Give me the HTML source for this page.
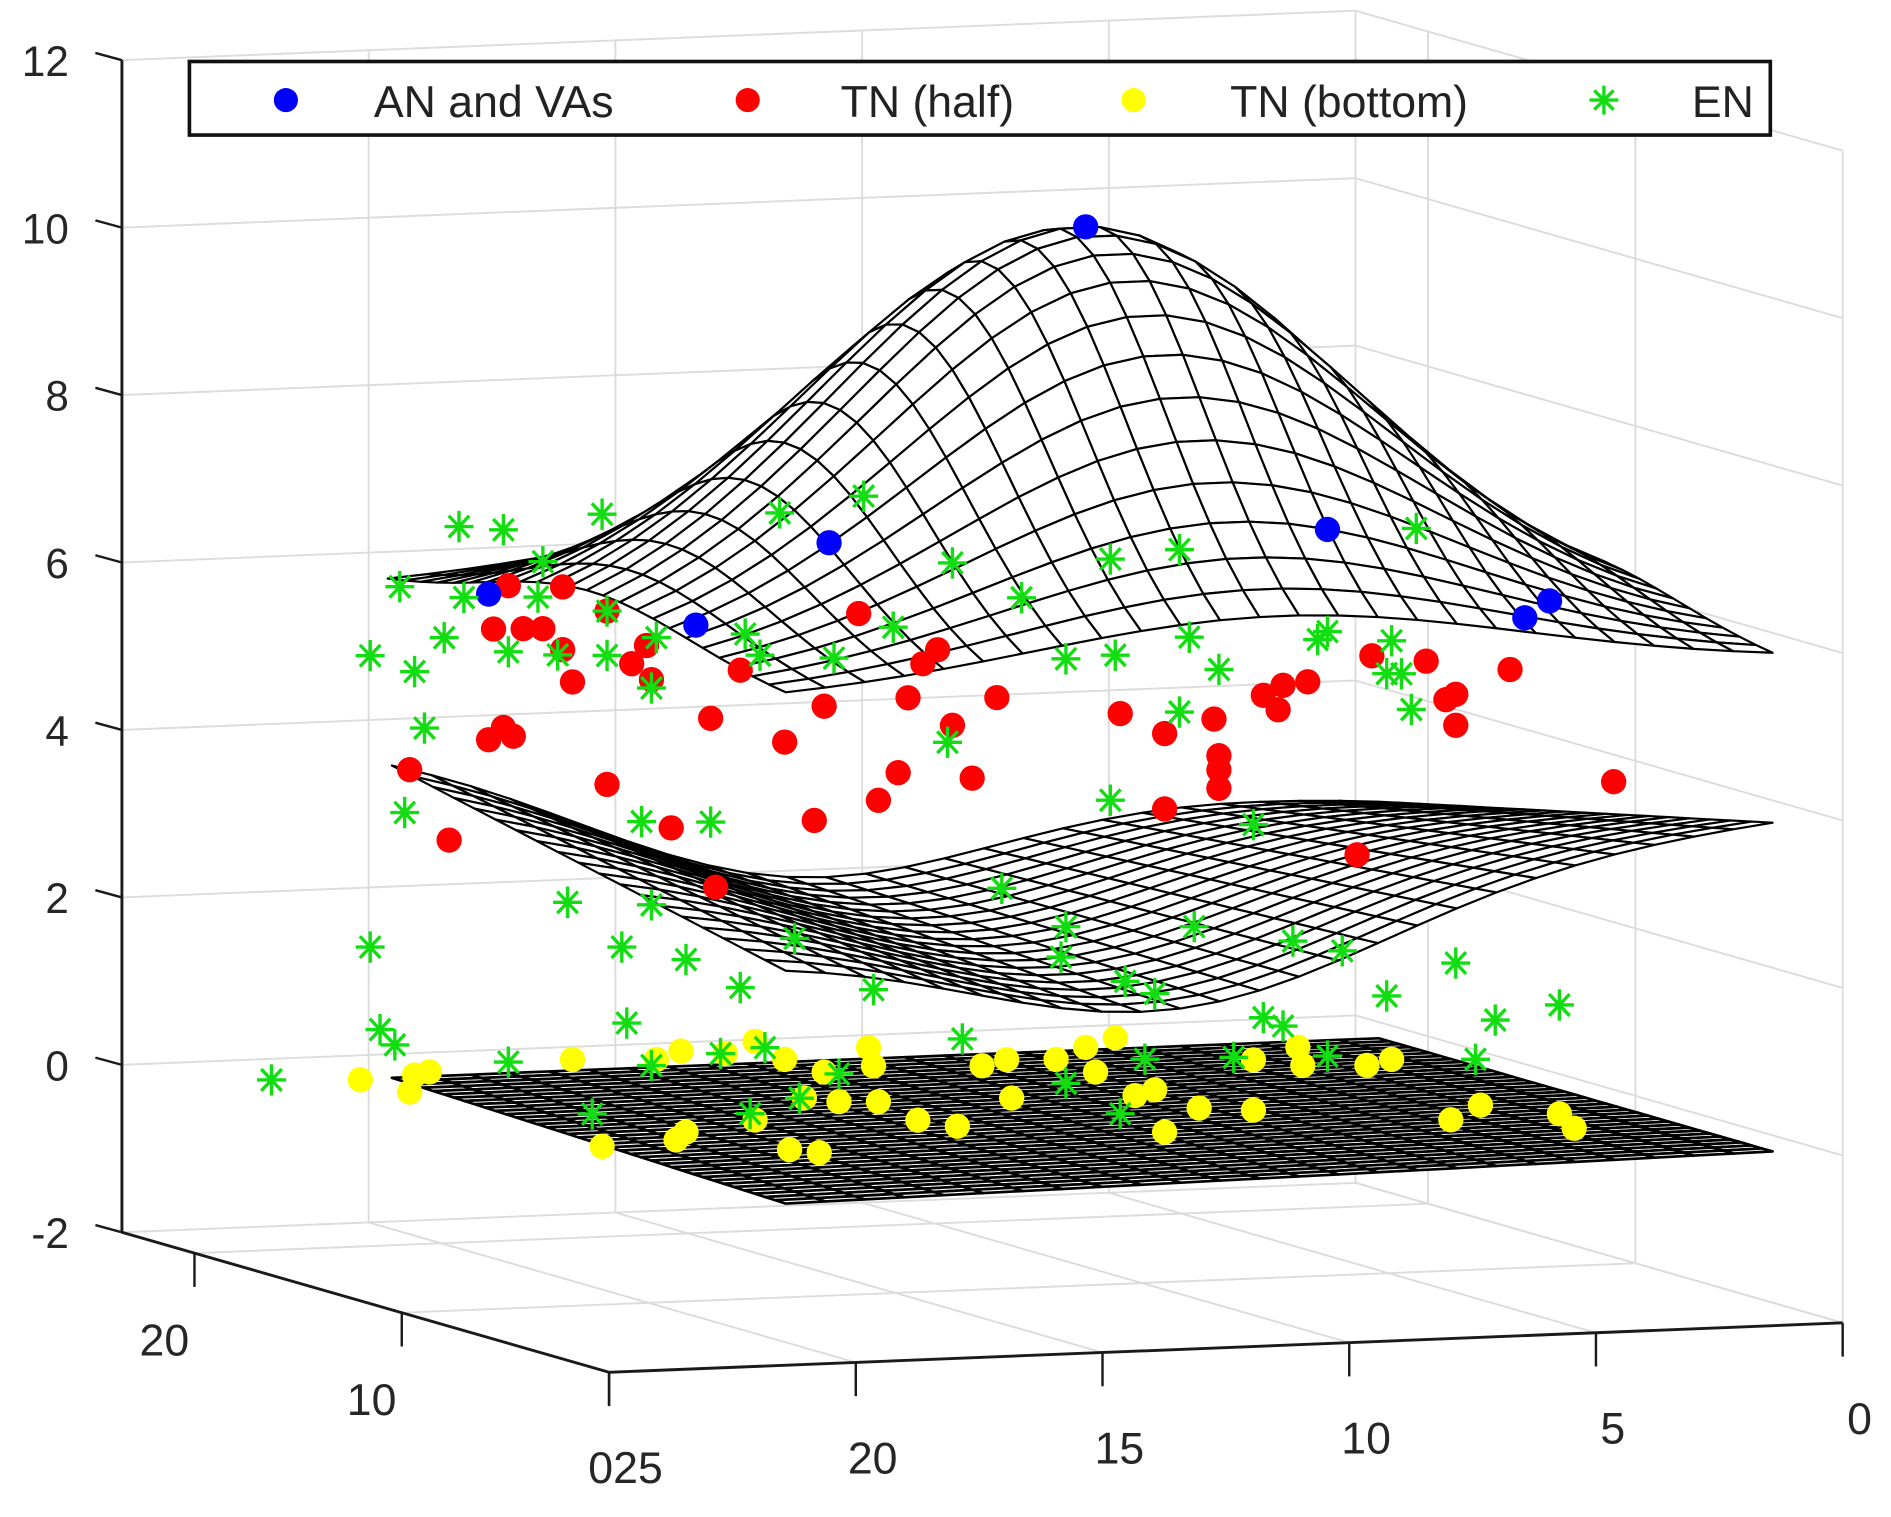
<!DOCTYPE html>
<html><head><meta charset="utf-8"><style>
html,body{margin:0;padding:0;background:#fff;}
svg{display:block;}
text{font-family:"Liberation Sans",Arial,sans-serif;}
</style></head><body>
<svg id="chart" width="1891" height="1517" viewBox="0 0 1568 1258" xmlns="http://www.w3.org/2000/svg">
<g id="walls"></g>
<g id="axes"></g>
<g id="meshes"></g>
<g id="markers"></g>
<g id="legend">
  <rect x="157" y="51" width="1311" height="61" fill="#fff" stroke="#111" stroke-width="3"/>
  <circle cx="237" cy="83" r="10" fill="#0000ff"/>
  <text x="310" y="97" font-size="37" fill="#222">AN and VAs</text>
  <circle cx="620" cy="83" r="10" fill="#ff0000"/>
  <text x="697" y="97" font-size="37" fill="#222">TN (half)</text>
  <circle cx="940" cy="83" r="10" fill="#ffff00"/>
  <text x="1020" y="97" font-size="37" fill="#222">TN (bottom)</text>
  <g stroke="#11dd11" stroke-width="2.8">
    <line x1="1318" y1="83" x2="1342" y2="83"/><line x1="1330" y1="71" x2="1330" y2="95"/>
    <line x1="1322" y1="75" x2="1338" y2="91"/><line x1="1338" y1="75" x2="1322" y2="91"/>
  </g>
  <text x="1403" y="97" font-size="37" fill="#222">EN</text>
</g>
</svg>
<script>
// ---- axis config ----
const xTicks=[0,5,10,15,20,25];
const yTicks=[0,10,20];
const zTicks=[-2,0,2,4,6,8,10,12];
const xMax=25, yMax=23.5, zMin=-2, zMax=12;
// ---- surface parameters ----
const topSurf=[5.85,4.75,11,10.5,5];
const midSurf=[3.4,0.55,1.3,13,6];
const botSurf=[0,-0.15];
const domX=[1,21], domY=[1,20];
// ---- scatter data (x, z; y fixed depth) ----
const ptY=12;
const blueX=[22.4,18.2,15.5,10.3,5.4,1.4,0.9];
const blueZ=[6.38,5.91,6.83,10.48,6.75,5.6,5.79];
const redX=[22.0,20.9,22.3,21.7,21.3,20.9,20.7,20.0,19.5,19.2,19.1,17.3,17.9,16.4,15.6,14.9,13.9,13.6,13.3,13.0,12.1,12.6,14.1,14.5,15.8,18.7,20.0,22.1,22.4,21.9,24.0,23.2,17.8,9.6,8.7,8.7,7.7,7.6,7.6,7.6,6.7,6.3,6.4,5.8,4.5,3.4,3.0,2.8,2.8,1.7,-0.4,4.8];
const redZ=[6.47,6.43,5.96,5.95,5.94,5.68,5.29,6.12,5.48,5.69,5.28,5.35,4.79,4.47,4.88,5.97,4.94,5.34,5.5,4.59,4.9,3.95,4.05,3.73,3.52,3.5,4.05,4.78,4.64,4.67,4.32,3.46,2.77,4.65,4.39,3.49,4.54,4.1,3.93,3.71,4.8,4.91,4.62,4.94,5.22,5.13,4.66,4.72,4.35,4.99,3.6,2.85];
const yelX=[25.0,24.0,23.9,23.6,20.7,20.1,18.6,18.4,18.5,17.6,17.0,16.4,15.6,14.7,14.6,14.5,13.7,16.3,15.7,17.0,12.4,11.9,11.8,10.9,10.3,9.7,10.1,9.3,8.9,8.7,8.0,6.9,6.9,6.0,5.9,4.6,4.1,2.9,2.3,0.7,0.4,15.3,16.0,12.9,19.0];
const yelZ=[0.64,0.47,0.67,0.7,0.78,-0.27,-0.23,-0.14,0.83,0.78,0.91,0.68,0.51,0.78,0.56,0.13,-0.11,-0.4,-0.45,-0.03,0.51,0.57,0.11,0.55,0.68,0.78,0.38,0.08,0.14,-0.37,-0.1,0.45,-0.15,0.58,0.36,0.33,0.39,-0.36,-0.2,-0.34,-0.52,0.15,0.21,-0.2,0.74];
const grnX=[23.0,22.1,20.1,21.3,24.2,22.9,21.4,20.0,23.3,24.8,23.9,22.0,21.0,20.0,19.0,19.1,23.7,16.5,14.8,13.0,11.6,14.2,15.4,16.9,17.2,10.7,9.8,9.7,8.2,8.4,7.6,5.6,5.4,4.1,3.9,3.6,3.7,13.1,8.4,9.8,6.9,24.1,19.3,17.9,12.0,20.8,19.1,24.8,19.7,18.4,17.3,16.2,14.6,10.7,10.8,8.1,6.1,5.1,2.8,4.2,2.0,0.7,9.5,8.9,24.6,24.3,19.6,12.8,6.7,6.3,26.8,22.0,19.1,17.7,16.8,15.3,16.1,17.1,20.3,10.7,9.1,9.6,7.3,5.4,2.4,4.2];
const grnZ=[7.2,7.14,7.28,6.74,6.51,6.35,6.32,6.12,5.88,5.7,5.49,5.68,5.62,5.59,5.78,5.18,4.81,7.21,7.37,6.53,6.08,5.79,5.45,5.52,5.78,5.33,6.5,5.35,5.53,6.58,5.13,5.44,5.53,5.39,4.99,6.72,4.56,4.39,4.64,3.62,3.26,3.81,3.59,3.55,2.62,2.66,2.59,2.22,2.1,1.92,1.56,2.12,1.47,2.13,1.77,2.07,1.85,1.71,1.51,1.15,0.81,0.96,1.45,1.29,1.23,1.04,1.19,0.84,0.95,0.84,0.68,0.78,0.67,0.78,0.83,0.48,0.21,0.05,0.12,0.26,0.51,-0.13,0.49,0.46,0.35,5.0];

const NS='http://www.w3.org/2000/svg';
function proj(x,y,z){
  const u=xMax-x;
  return [505+u*40.92-y*17.19, 1138-u*1.64-y*4.94-(z-zMin)*69.43];
}
function depth(x,y,z){return 10.9*(xMax-x)+34*y-10.4*(z-zMin);}
function mk(tag,attrs,parent){const e=document.createElementNS(NS,tag);for(const k in attrs)e.setAttribute(k,attrs[k]);parent.appendChild(e);return e;}
function line3(p,q,parent,stroke,w){const a=proj(...p),b=proj(...q);return mk('line',{x1:a[0],y1:a[1],x2:b[0],y2:b[1],stroke:stroke,'stroke-width':w},parent);}

// walls
const walls=document.getElementById('walls');
const gc='#dcdcdc';
zTicks.forEach(z=>{
  let l=line3([0,yMax,z],[xMax,yMax,z],walls,gc,1.6);
  
  
  l=line3([0,0,z],[0,yMax,z],walls,gc,1.6);
  
  
});
xTicks.forEach(x=>{
  let l=line3([x,yMax,zMin],[x,yMax,zMax],walls,gc,1.6);
  
  
  l=line3([x,0,zMin],[x,yMax,zMin],walls,gc,1.6);
  
  
});
yTicks.forEach(y=>{
  let l=line3([0,y,zMin],[0,y,zMax],walls,gc,1.6);
  
  
  l=line3([0,y,zMin],[xMax,y,zMin],walls,gc,1.6);
  
  
});

// axes
const axes=document.getElementById('axes');
let ax=line3([xMax,yMax,zMin],[xMax,yMax,zMax],axes,'#1a1a1a',2.4);


ax=line3([xMax,0,zMin],[xMax,yMax,zMin],axes,'#1a1a1a',2.4);


ax=line3([0,0,zMin],[xMax,0,zMin],axes,'#1a1a1a',2.4);


zTicks.forEach(z=>{
  const p=proj(xMax,yMax,z);
  const t=mk('line',{x1:p[0]-22,y1:p[1]-6,x2:p[0],y2:p[1],stroke:'#1a1a1a','stroke-width':2},axes);
  
  
  const tx=mk('text',{x:p[0]-44,y:p[1]+13,'font-size':35,fill:'#262626','text-anchor':'end'},axes);
  tx.textContent=String(z);
  
  
});
xTicks.forEach(x=>{
  const p=proj(x,0,zMin);
  const t=mk('line',{x1:p[0],y1:p[1],x2:p[0],y2:p[1]+28,stroke:'#1a1a1a','stroke-width':2},axes);
  
  
  const tx=mk('text',{x:p[0]+(x===xMax?24:14),y:p[1]+92,'font-size':37,fill:'#262626','text-anchor':'middle'},axes);
  tx.textContent=String(x);
  
  
});
yTicks.forEach(y=>{
  const p=proj(xMax,y,zMin);
  const t=mk('line',{x1:p[0],y1:p[1],x2:p[0],y2:p[1]+28,stroke:'#1a1a1a','stroke-width':2},axes);
  
  
  const tx=mk('text',{x:p[0]-(y===0?7:25),y:p[1]+(y===0?92:85),'font-size':37,fill:'#262626','text-anchor':'middle'},axes);
  tx.textContent=String(y);
  
  
});

// surfaces
function fTop(x,y){const[b,a,cx,cy,s]=topSurf;return b+a*Math.exp(-((x-cx)**2+(y-cy)**2)/(2*s*s));}
function fMid(x,y){const[b,sad,dip,cx,s]=midSurf;
  const sx=(x-(domX[0]+domX[1])/2)/((domX[1]-domX[0])/2), sy=(y-(domY[0]+domY[1])/2)/((domY[1]-domY[0])/2);
  return b+sad*sx*sy-dip*Math.exp(-((x-cx)**2)/(s*s));}
function fBot(x,y){return botSurf[0]+botSurf[1]*((x-domX[0])/(domX[1]-domX[0]))*((domY[1]-y)/(domY[1]-domY[0]));}
const meshes=document.getElementById('meshes');
function drawSurface(f,name,sx,sy,w){
  const g=mk('g',{},meshes);
  
  
  const quads=[];
  for(let x=domX[0];x<domX[1]-1e-9;x+=sx){
    for(let y=domY[0];y<domY[1]-1e-9;y+=sy){
      const c=[[x,y],[x+sx,y],[x+sx,y+sy],[x,y+sy]].map(([a,b])=>[a,b,f(a,b)]);
      const d=c.reduce((s,p)=>s+depth(...p),0)/4;
      quads.push({c,d});
    }
  }
  quads.sort((a,b)=>b.d-a.d);
  quads.forEach(q=>{
    const pts=q.c.map(p=>proj(...p).map(v=>v.toFixed(1)).join(',')).join(' ');
    const pg=mk('polygon',{points:pts,fill:'#fff',stroke:'#000','stroke-width':w,'stroke-linejoin':'round'},g);
    
    
  });
}
drawSurface(fBot,'bottom-mesh',0.8,0.5,2.2);
drawSurface(fMid,'middle-mesh',0.8,1,1.8);
drawSurface(fTop,'top-mesh',0.8,0.8,1.8);

// markers
const markers=document.getElementById('markers');
function dots(X,Z,color,name){
  const g=mk('g',{},markers);
  
  
  X.forEach((x,i)=>{const p=proj(x,ptY,Z[i]);
    const c=mk('circle',{cx:p[0],cy:p[1],r:10.5,fill:color},g);
    
    });
}
dots(yelX,yelZ,'#ffff00','tn-bottom');
dots(redX,redZ,'#ff0000','tn-half');
dots(blueX,blueZ,'#0000ff','an-vas');
const gg=mk('g',{stroke:'#11dd11','stroke-width':2.8},markers);


grnX.forEach((x,i)=>{const [px,py]=proj(x,ptY,grnZ[i]);
  const s=mk('path',{d:`M${px-12},${py}H${px+12}M${px},${py-13}V${py+13}M${px-8.5},${py-9}L${px+8.5},${py+9}M${px+8.5},${py-9}L${px-8.5},${py+9}`,fill:'none'},gg);
  
  });
</script>
</body></html>
